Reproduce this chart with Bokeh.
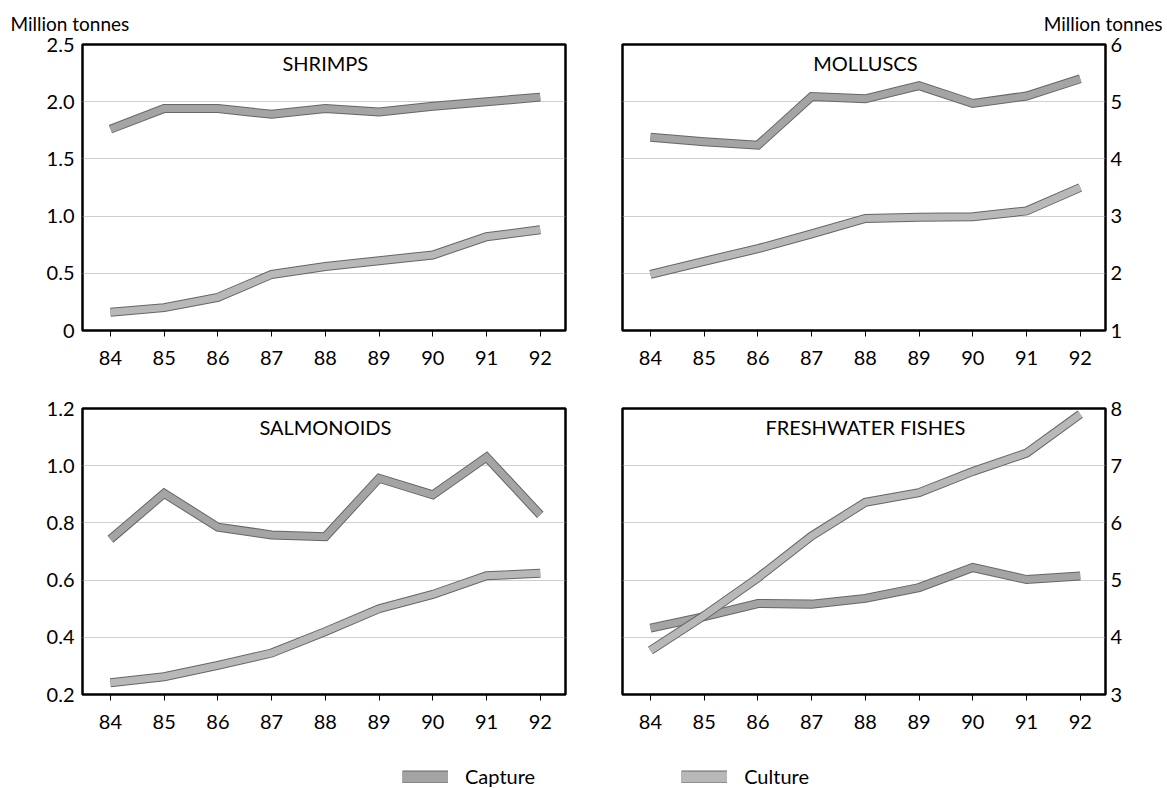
from bokeh.plotting import figure
from bokeh.models import Range1d, FixedTicker, Label, Legend, LegendItem, CustomJSTickFormatter
from bokeh.layouts import column, row
from bokeh.embed import file_html
from bokeh.resources import INLINE

years = [84, 85, 86, 87, 88, 89, 90, 91, 92]

shrimps_capture = [1.76, 1.94, 1.94, 1.89, 1.94, 1.91, 1.96, 2.00, 2.04]
shrimps_culture = [0.16, 0.20, 0.29, 0.49, 0.56, 0.61, 0.66, 0.82, 0.88]
molluscs_capture = [4.38, 4.30, 4.24, 5.09, 5.05, 5.28, 4.97, 5.10, 5.40]
molluscs_culture = [1.98, 2.21, 2.43, 2.69, 2.96, 2.98, 2.99, 3.09, 3.50]
salmonoids_capture = [0.743, 0.903, 0.785, 0.758, 0.752, 0.956, 0.898, 1.03, 0.828]
salmonoids_culture = [0.241, 0.262, 0.302, 0.345, 0.42, 0.50, 0.55, 0.615, 0.624]
fresh_capture = [4.16, 4.36, 4.59, 4.58, 4.68, 4.87, 5.22, 5.01, 5.07]
fresh_culture = [3.77, 4.38, 5.04, 5.77, 6.36, 6.53, 6.90, 7.22, 7.90]

shrimps_ticks = [0, 0.5, 1.0, 1.5, 2.0, 2.5]
molluscs_ticks = [1, 2, 3, 4, 5, 6]
salmonoids_ticks = [0.2, 0.4, 0.6, 0.8, 1.0, 1.2]
fresh_ticks = [3, 4, 5, 6, 7, 8]

series_labels = ["Capture", "Culture"]
unit_label = "Million tonnes"

FONT = "Lato"
OUTLINE = "#666666"
CAPTURE_FILL = "#a4a4a4"
CULTURE_FILL = "#b8b8b8"

dec_fmt = CustomJSTickFormatter(code="return tick == 0 ? '0' : tick.toFixed(1);")
int_fmt = CustomJSTickFormatter(code="return tick.toFixed(0);")


def make_panel(name, cap, cul, yticks, fmt, side, top_row, title=None):
    ylo, yhi = yticks[0], yticks[-1]
    if side == "left":
        bl, br = 82, 20
    else:
        bl, br = 37, 58
    bt = 44 if top_row else 34
    p = figure(frame_width=483, frame_height=286,
               x_range=Range1d(83.48, 92.47), y_range=Range1d(ylo, yhi),
               y_axis_location=side, output_backend="svg", toolbar_location=None,
               min_border_left=bl, min_border_right=br,
               min_border_top=bt, min_border_bottom=44)
    p.outline_line_color = "black"
    p.outline_line_width = 2.5
    p.xgrid.visible = False
    p.ygrid.ticker = FixedTicker(ticks=yticks)
    p.ygrid.grid_line_color = "#9e9e9e"
    p.ygrid.grid_line_dash = "1 1"
    p.ygrid.grid_line_width = 1.2

    xa = p.xaxis[0]
    xa.ticker = FixedTicker(ticks=years)
    xa.axis_line_color = None
    xa.major_tick_out = 6
    xa.major_tick_in = 0
    xa.major_tick_line_color = "black"
    xa.minor_tick_line_color = None
    xa.major_label_standoff = 14
    xa.major_label_text_font = FONT
    xa.major_label_text_font_size = "20px"
    xa.major_label_text_color = "black"

    ya = p.yaxis[0]
    ya.ticker = FixedTicker(ticks=yticks)
    ya.formatter = fmt
    ya.axis_line_color = None
    ya.major_tick_out = 0
    ya.major_tick_in = 0
    ya.minor_tick_line_color = None
    ya.major_label_standoff = 8 if side == "left" else 5
    ya.major_label_text_font = FONT
    ya.major_label_text_font_size = "20px"
    ya.major_label_text_color = "black"

    for vals, fill in ((cap, CAPTURE_FILL), (cul, CULTURE_FILL)):
        p.line(years, vals, line_width=9, line_color=OUTLINE, line_join="miter", line_cap="butt")
        p.line(years, vals, line_width=7, line_color=fill, line_join="miter", line_cap="butt")

    p.add_layout(Label(x=88, y=yhi - (yhi - ylo) * 0.066, text=name, text_align="center",
                       text_baseline="middle", text_font=FONT, text_font_size="20px",
                       text_color="black"))
    if title:
        p.title.text = title
        p.title.text_font = FONT
        p.title.text_font_size = "19px"
        p.title.text_font_style = "normal"
        p.title.text_color = "black"
        p.title.standoff = 19
        if side == "left":
            p.title.align = "left"
            p.title.offset = -72
        else:
            p.title.align = "right"
            p.title.offset = -57
    return p


p1 = make_panel("SHRIMPS", shrimps_capture, shrimps_culture, shrimps_ticks, dec_fmt, "left", True, unit_label)
p2 = make_panel("MOLLUSCS", molluscs_capture, molluscs_culture, molluscs_ticks, int_fmt, "right", True, unit_label)
p3 = make_panel("SALMONOIDS", salmonoids_capture, salmonoids_culture, salmonoids_ticks, dec_fmt, "left", False)
p4 = make_panel("FRESHWATER FISHES", fresh_capture, fresh_culture, fresh_ticks, int_fmt, "right", False)

leg = figure(width=1163, height=50, x_range=Range1d(0, 1), y_range=Range1d(0, 1),
             x_axis_type=None, y_axis_type=None, output_backend="svg", toolbar_location=None,
             min_border=0, min_border_left=0, min_border_right=0, min_border_top=0, min_border_bottom=0)
leg.outline_line_color = None
leg.grid.visible = False
items = []
for lab, fill in zip(series_labels, (CAPTURE_FILL, CULTURE_FILL)):
    o = leg.line([-5, -4], [-5, -4], line_width=13, line_color=OUTLINE, line_cap="butt")
    f = leg.line([-5, -4], [-5, -4], line_width=11, line_color=fill, line_cap="butt")
    items.append(LegendItem(label=lab, renderers=[o, f]))
legend = Legend(items=items, orientation="horizontal", location=(402, 0), spacing=146,
                padding=0, margin=0, border_line_color=None, background_fill_alpha=0,
                label_text_font=FONT, label_text_font_size="20px", label_text_color="black",
                glyph_width=46, glyph_height=13, label_standoff=17)
leg.add_layout(legend)

layout = column(row(p1, p2), row(p3, p4), leg)

with open("out.html", "w") as fh:
    fh.write(file_html(layout, INLINE))
